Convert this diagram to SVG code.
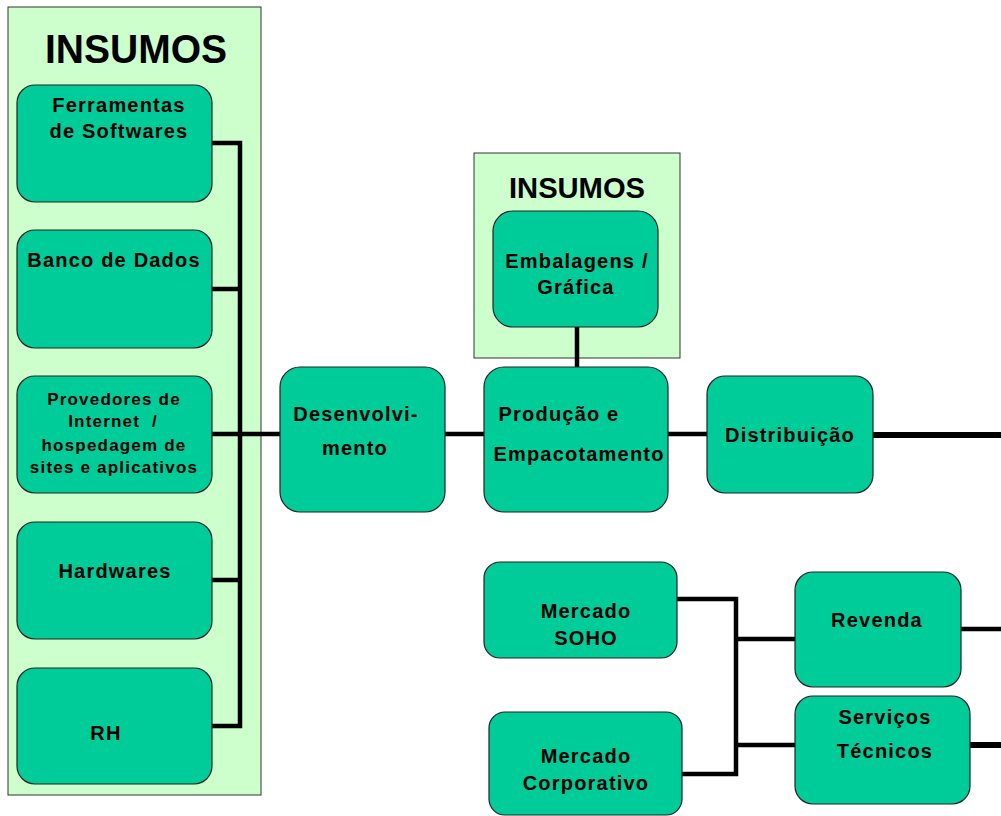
<svg xmlns="http://www.w3.org/2000/svg" width="1001" height="816" viewBox="0 0 1001 816">
<style>
.panel{fill:#CCFFCC;stroke:#333;stroke-width:1}
.box{fill:#00CC99;stroke:#222;stroke-width:1.2}
.t{font-family:"Liberation Sans",Arial,sans-serif;font-weight:bold;font-size:20px;letter-spacing:1.2px;fill:#000;text-anchor:middle}
.s{font-size:17px}
.h{font-family:"Liberation Sans",Arial,sans-serif;font-weight:bold;fill:#000;text-anchor:middle}
.c{fill:none;stroke:#000;stroke-width:4.5}
.w{stroke-width:6}
</style>
<rect width="1001" height="816" fill="#fff"/>
<g id="insumos-left">
<rect class="panel" x="8" y="7" width="253" height="788"/>
<text class="h" x="136" y="63" font-size="41" textLength="182" lengthAdjust="spacingAndGlyphs">INSUMOS</text>
</g>
<g id="insumos-top">
<rect class="panel" x="474" y="153" width="206" height="205"/>
<text class="h" x="577" y="198" font-size="30" textLength="136" lengthAdjust="spacingAndGlyphs">INSUMOS</text>
</g>
<g id="connectors">
<path class="c" d="M212 143H240V726H212M212 289H240M212 580H240M212 434H280"/>
<path class="c" d="M445 434H484M668 434H707"/>
<path class="c w" d="M873 435H1001"/>
<path class="c" d="M577 327V367"/>
<path class="c" d="M677 599H736V774H682M736 639H795M736 745H795"/>
<path class="c" d="M961 629H1001"/>
<path class="c w" d="M970 745H1001"/>
</g>
<g id="ferramentas">
<rect class="box" x="17" y="85" width="195" height="117" rx="18"/>
<text class="t" x="119" y="112">Ferramentas</text>
<text class="t" x="119" y="138">de Softwares</text>
</g>
<g id="banco">
<rect class="box" x="17" y="230" width="195" height="118" rx="18"/>
<text class="t" x="114" y="267">Banco de Dados</text>
</g>
<g id="provedores">
<rect class="box" x="17" y="376" width="195" height="117" rx="18"/>
<text class="t s" x="114" y="405">Provedores de</text>
<text class="t s" x="113" y="427" xml:space="preserve">Internet  /</text>
<text class="t s" x="114" y="451">hospedagem de</text>
<text class="t s" x="114" y="473">sites e aplicativos</text>
</g>
<g id="hardwares">
<rect class="box" x="17" y="522" width="195" height="117" rx="18"/>
<text class="t" x="115" y="578">Hardwares</text>
</g>
<g id="rh">
<rect class="box" x="17" y="668" width="195" height="116" rx="18"/>
<text class="t" x="106" y="740">RH</text>
</g>
<g id="desenvolvimento">
<rect class="box" x="280" y="367" width="165" height="145" rx="20"/>
<text class="t" x="356" y="421">Desenvolvi-</text>
<text class="t" x="355" y="455">mento</text>
</g>
<g id="embalagens">
<rect class="box" x="493" y="211" width="165" height="116" rx="20"/>
<text class="t" x="577" y="268">Embalagens /</text>
<text class="t" x="576" y="294">Gráfica</text>
</g>
<g id="producao">
<rect class="box" x="484" y="367" width="184" height="145" rx="20"/>
<text class="t" x="559" y="421">Produção e</text>
<text class="t" x="579" y="461">Empacotamento</text>
</g>
<g id="distribuicao">
<rect class="box" x="707" y="376" width="166" height="117" rx="18"/>
<text class="t" x="790" y="442">Distribuição</text>
</g>
<g id="soho">
<rect class="box" x="484" y="562" width="193" height="96" rx="16"/>
<text class="t" x="586" y="618">Mercado</text>
<text class="t" x="586" y="645">SOHO</text>
</g>
<g id="corporativo">
<rect class="box" x="489" y="712" width="193" height="103" rx="16"/>
<text class="t" x="586" y="763">Mercado</text>
<text class="t" x="586" y="790">Corporativo</text>
</g>
<g id="revenda">
<rect class="box" x="795" y="572" width="166" height="115" rx="18"/>
<text class="t" x="877" y="627">Revenda</text>
</g>
<g id="servicos">
<rect class="box" x="795" y="696" width="175" height="108" rx="18"/>
<text class="t" x="885" y="724">Serviços</text>
<text class="t" x="885" y="758">Técnicos</text>
</g>
</svg>
